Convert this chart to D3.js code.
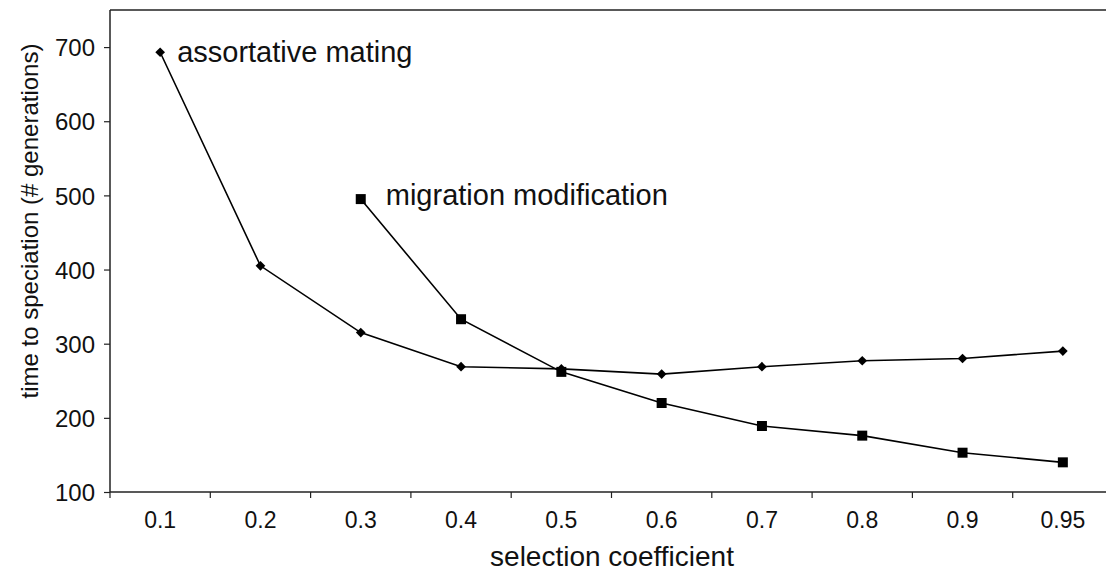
<!DOCTYPE html>
<html>
<head>
<meta charset="utf-8">
<script src="https://cdn.jsdelivr.net/npm/d3@7"></script>
<style>
  body { margin: 0; background: #fff; }
  text { font-family: "Liberation Sans", Arial, sans-serif; fill: #111; }
</style>
</head>
<body>
<script>
// data
var categories = ["0.1", "0.2", "0.3", "0.4", "0.5", "0.6", "0.7", "0.8", "0.9", "0.95"];
var assortative = [693, 405, 315, 269, 266, 259, 269, 277, 280, 290];
var migration = [null, null, 495, 333, 262, 220, 189, 176, 153, 140];
var yTicks = [100, 200, 300, 400, 500, 600, 700];

var W = 1106, H = 571;
var margin = {top: 10, left: 110, bottom: 79};
var plotW = 1003, plotH = H - margin.top - margin.bottom;

var svg = d3.select("body").append("svg")
  .attr("width", W)
  .attr("height", H);

var g = svg.append("g")
  .attr("transform", "translate(" + margin.left + "," + margin.top + ")");

var x = d3.scaleBand().domain(categories).range([0, plotW]);
var y = d3.scaleLinear().domain([100, 750]).range([plotH, 0]);

// top border
g.append("line")
  .attr("x1", 0).attr("x2", W).attr("y1", 0).attr("y2", 0)
  .attr("stroke", "#222").attr("stroke-width", 1.5);

// y axis
var yAxis = g.append("g")
  .call(d3.axisLeft(y).tickValues(yTicks).tickSize(6).tickPadding(9));
yAxis.select(".domain").attr("stroke", "#222").attr("stroke-width", 1.5)
  .attr("d", "M0," + plotH + "V0");
yAxis.selectAll(".tick line").attr("stroke", "#222").attr("stroke-width", 1.2);
yAxis.selectAll("text").style("font-size", "24px").attr("dy", "0.36em");

// x axis, ticks between categories
var xAxis = g.append("g")
  .attr("transform", "translate(0," + plotH + ")")
  .call(d3.axisBottom(x).tickSize(0));
xAxis.select(".domain").attr("stroke", "#222").attr("stroke-width", 1.5)
  .attr("d", "M0,0H" + (W - margin.left));
xAxis.selectAll("text").style("font-size", "23px").attr("y", 36).attr("dy", 0);
xAxis.selectAll(".tickmark")
  .data(categories)
  .enter().append("line")
  .attr("x1", d => x(d)).attr("x2", d => x(d))
  .attr("y1", 0).attr("y2", 6)
  .attr("stroke", "#222").attr("stroke-width", 1.2);

// axis titles
svg.append("text")
  .attr("x", 612).attr("y", 566)
  .attr("text-anchor", "middle")
  .style("font-size", "28px")
  .text("selection coefficient");

svg.append("text")
  .attr("transform", "translate(38,221) rotate(-90)")
  .attr("text-anchor", "middle")
  .style("font-size", "24px")
  .text("time to speciation (# generations)");

var cx = d => x(d) + x.bandwidth() / 2;

var line = d3.line()
  .defined(d => d[1] != null)
  .x(d => cx(d[0]))
  .y(d => y(d[1]));

var aPts = categories.map((c, i) => [c, assortative[i]]);
var mPts = categories.map((c, i) => [c, migration[i]]).filter(d => d[1] != null);

g.append("path").datum(aPts)
  .attr("d", line).attr("fill", "none")
  .attr("stroke", "#000").attr("stroke-width", 1.6);
g.append("path").datum(mPts)
  .attr("d", line).attr("fill", "none")
  .attr("stroke", "#000").attr("stroke-width", 1.6);

g.selectAll(".diamond")
  .data(aPts)
  .enter().append("path")
  .attr("class", "diamond")
  .attr("transform", d => "translate(" + cx(d[0]) + "," + y(d[1]) + ")")
  .attr("d", d3.symbol().type(d3.symbolDiamond2).size(60))
  .attr("fill", "#000");

g.selectAll(".square")
  .data(mPts)
  .enter().append("path")
  .attr("class", "square")
  .attr("transform", d => "translate(" + cx(d[0]) + "," + y(d[1]) + ")")
  .attr("d", d3.symbol().type(d3.symbolSquare).size(100))
  .attr("fill", "#000");

// series labels
g.append("text")
  .attr("x", cx("0.1") + 17).attr("y", y(assortative[0]) + 10)
  .style("font-size", "29px")
  .text("assortative mating");

g.append("text")
  .attr("x", cx("0.3") + 25).attr("y", y(migration[2]) + 6)
  .style("font-size", "29px")
  .text("migration modification");
</script>
</body>
</html>
